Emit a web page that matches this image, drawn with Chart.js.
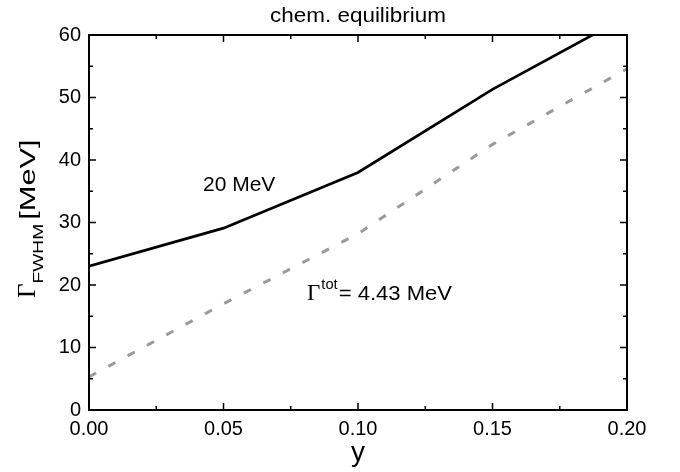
<!DOCTYPE html>
<html>
<head>
<meta charset="utf-8">
<script src="https://cdn.jsdelivr.net/npm/chart.js@4/dist/chart.umd.min.js"></script>
<style>
html,body{margin:0;padding:0;background:#fff;}
#wrap{width:680px;height:472px;}
</style>
</head>
<body>
<div id="wrap"><canvas id="c" width="680" height="472"></canvas></div>
<script>
// ---- data ----
const yValues = [0, 0.05, 0.10, 0.15, 0.20];
const width20MeV = [23.0, 29.1, 38.0, 51.3, 63.0];
const widthTot443 = [5.3, 17.0, 28.2, 42.5, 54.6];
const xTicks = [0, 0.05, 0.10, 0.15, 0.20];
const yTicks = [0, 10, 20, 30, 40, 50, 60];
const titleText = 'chem. equilibrium';
const xTitle = 'y';

const FONT = '"Liberation Sans", Arial, sans-serif';
const SERIF = '"Liberation Serif", "Times New Roman", serif';

// draw text with a horizontal stretch (in current coordinate system); returns advance width
function stretchText(ctx, txt, x, y, font, sx) {
  ctx.save();
  ctx.font = font;
  ctx.translate(x, y);
  ctx.scale(sx, 1);
  ctx.fillText(txt, 0, 0);
  const w = ctx.measureText(txt).width * sx;
  ctx.restore();
  return w;
}

const framePlugin = {
  id: 'frame',
  afterDraw(chart) {
    const ctx = chart.ctx;
    const a = chart.chartArea;
    const xs = chart.scales.x, ys = chart.scales.y;
    ctx.save();
    ctx.strokeStyle = '#000';
    ctx.lineWidth = 2;
    ctx.strokeRect(a.left, a.top, a.right - a.left, a.bottom - a.top);
    ctx.lineWidth = 1.5;
    ctx.beginPath();
    for (let i = 0; i < xTicks.length; i++) {
      const px = xs.getPixelForValue(xTicks[i]);
      ctx.moveTo(px, a.bottom); ctx.lineTo(px, a.bottom - 7);
      ctx.moveTo(px, a.top); ctx.lineTo(px, a.top + 7);
      if (i < xTicks.length - 1) {
        const pm = xs.getPixelForValue((xTicks[i] + xTicks[i + 1]) / 2);
        ctx.moveTo(pm, a.bottom); ctx.lineTo(pm, a.bottom - 4);
        ctx.moveTo(pm, a.top); ctx.lineTo(pm, a.top + 4);
      }
    }
    for (let i = 0; i < yTicks.length; i++) {
      const py = ys.getPixelForValue(yTicks[i]);
      ctx.moveTo(a.left, py); ctx.lineTo(a.left + 7, py);
      ctx.moveTo(a.right, py); ctx.lineTo(a.right - 7, py);
      if (i < yTicks.length - 1) {
        const pm = ys.getPixelForValue((yTicks[i] + yTicks[i + 1]) / 2);
        ctx.moveTo(a.left, pm); ctx.lineTo(a.left + 4, pm);
        ctx.moveTo(a.right, pm); ctx.lineTo(a.right - 4, pm);
      }
    }
    ctx.stroke();

    ctx.fillStyle = '#000';
    ctx.textBaseline = 'alphabetic';
    // title
    ctx.textAlign = 'center';
    stretchText(ctx, titleText, (a.left + a.right) / 2, 22, '21px ' + FONT, 1.07);
    // x axis title
    ctx.font = '28px ' + FONT;
    ctx.fillText(xTitle, (a.left + a.right) / 2, 461);

    // annotations
    ctx.textAlign = 'left';
    ctx.font = '21px ' + FONT;
    ctx.fillText('20 MeV', 203, 191);
    let cx = 307;
    cx += stretchText(ctx, '\u0393', cx, 300, '23px ' + SERIF, 1);
    cx += 1;
    cx += stretchText(ctx, 'tot', cx, 289, '14px ' + FONT, 1.05);
    stretchText(ctx, '= 4.43 MeV', cx + 1, 300, '21px ' + FONT, 1.05);

    // y axis title (rotated)
    ctx.save();
    ctx.translate(35, 298);
    ctx.rotate(-Math.PI / 2);
    let u = 0;
    u += stretchText(ctx, '\u0393', u, 0, '25px ' + SERIF, 1);
    u += stretchText(ctx, 'FWHM', u, 8, '15px ' + FONT, 1.28);
    u += 4;
    stretchText(ctx, '[MeV]', u, 0, '22px ' + FONT, 1.4);
    ctx.restore();

    ctx.restore();
  }
};

new Chart(document.getElementById('c'), {
  type: 'line',
  data: {
    datasets: [
      {
        label: '20 MeV',
        data: yValues.map((x, i) => ({x: x, y: width20MeV[i]})),
        borderColor: '#000',
        borderWidth: 2.7,
        pointRadius: 0,
        tension: 0,
        fill: false
      },
      {
        label: 'Gamma tot = 4.43 MeV',
        data: yValues.map((x, i) => ({x: x, y: widthTot443[i]})),
        borderColor: '#9a9a9a',
        borderWidth: 3,
        borderDash: [8, 14],
        pointRadius: 0,
        tension: 0,
        fill: false
      }
    ]
  },
  options: {
    responsive: false,
    animation: false,
    events: [],
    layout: { padding: { top: 35, right: 53, left: 0, bottom: 0 } },
    plugins: { legend: { display: false }, tooltip: { enabled: false }, title: { display: false } },
    scales: {
      x: {
        type: 'linear',
        min: 0, max: 0.2,
        afterBuildTicks(s) { s.ticks = xTicks.map(v => ({value: v})); },
        afterFit(s) { s.height = 62; },
        grid: { display: false, drawTicks: false },
        border: { display: false },
        ticks: {
          padding: 7,
          color: '#000',
          font: { family: FONT, size: 20 },
          callback: v => Number(v).toFixed(2)
        }
      },
      y: {
        type: 'linear',
        min: 0, max: 60,
        afterBuildTicks(s) { s.ticks = yTicks.map(v => ({value: v})); },
        afterFit(s) { s.width = 89; },
        grid: { display: false, drawTicks: false },
        border: { display: false },
        ticks: {
          padding: 8,
          color: '#000',
          font: { family: FONT, size: 20 },
          callback: v => String(v)
        }
      }
    }
  },
  plugins: [framePlugin]
});
</script>
</body>
</html>
